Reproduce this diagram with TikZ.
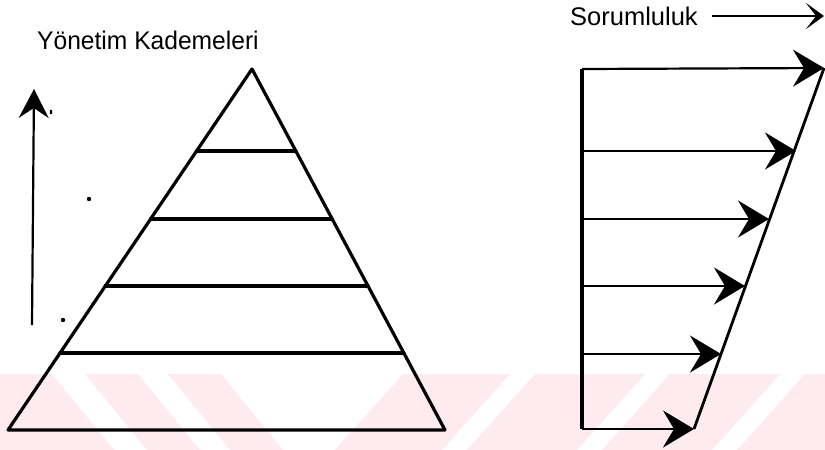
\documentclass[tikz,border=0pt]{standalone}
\usepackage{fontspec}
\setmainfont{Liberation Sans}
\usetikzlibrary{arrows.meta,calc}
\definecolor{wmpink}{RGB}{253,235,239}
\begin{document}
\begin{tikzpicture}[x=1pt,y=-1pt,
  edge/.style={line width=3.2pt, line join=round, line cap=round},
  level/.style={line width=3.3pt, line cap=round},
  shaft/.style={line width=2.2pt},
  bighead/.style={-{Stealth[length=31pt,width=37pt,inset=11pt]}},
  uphead/.style={-{Stealth[length=29pt,width=30pt,inset=10pt]}},
  smallhead/.style={-{Stealth[length=18pt,width=26pt,inset=10pt]}},
  lbl/.style={font=\fontsize{25.5}{30}\selectfont, inner sep=0pt, anchor=base west},
  speck/.style={fill=black}
]
\useasboundingbox (0,0) rectangle (825,450);

% pale striped band along the bottom
\begin{scope}
  \clip (0,374) rectangle (825,450);
  \foreach \a/\b in {-100/52, 85/138, 168/221}
    \fill[wmpink] (\a,374) -- (\b,374) -- (\b+62,450) -- (\a+62,450) -- cycle;
  \foreach \a/\b in {403/510, 535/645, 670/780, 805/915}
    \fill[wmpink] (\a,374) -- (\b,374) -- (\b-68,450) -- (\a-68,450) -- cycle;
\end{scope}

% titles
\node[lbl, xscale=0.965] (title) at (37,49) {Yönetim Kademeleri};
\node[lbl] (resp) at (570,25) {Sorumluluk};
\coordinate (rs) at (712,16);
\coordinate (re) at (824,16);
\draw[shaft, smallhead] (rs) -- (re);

% upward arrow and specks on the left
\coordinate (vb) at (32,325);
\coordinate (vt) at (34,89);
\draw[shaft, uphead] (vb) -- (vt);
\fill[speck] (51,112) ellipse (1.3pt and 2.4pt);
\fill[speck] (89,199) circle (2.2pt);
\fill[speck] (63,320) circle (2.2pt);

% pyramid of management levels
\coordinate (apex) at (252,69);
\coordinate (bl) at (8,430);
\coordinate (br) at (445,430);
\draw[edge] (bl) -- (apex) -- (br) -- cycle;
\foreach \i/\t in {1/0.227, 2/0.4155, 3/0.601, 4/0.787} {
  \coordinate (l\i) at ($(apex)!\t!(bl)$);
  \coordinate (r\i) at ($(apex)!\t!(br)$);
  \draw[level] (l\i) -- (r\i);
}

% responsibility arrows
\coordinate (s0) at (582,69);
\coordinate (s1) at (582,151);
\coordinate (s2) at (582,219);
\coordinate (s3) at (582,286);
\coordinate (s4) at (582,354);
\coordinate (s5) at (582,429);
\coordinate (t0) at (824,68);
\coordinate (t1) at (796,151);
\coordinate (t2) at (769,219);
\coordinate (t3) at (745,286);
\coordinate (t4) at (721,354);
\coordinate (t5) at (694,429);
\draw[line width=3.2pt] (s0) -- (s5);
\draw[line width=2.8pt] (t5) -- (t0);
\foreach \i in {0,...,5}
  \draw[shaft, bighead] (s\i) -- (t\i);
\end{tikzpicture}
\end{document}
